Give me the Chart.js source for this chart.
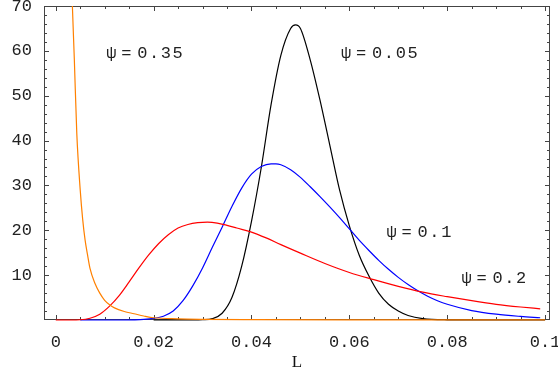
<!DOCTYPE html>
<html>
<head>
<meta charset="utf-8">
<script src="https://cdn.jsdelivr.net/npm/chart.js@4.4.0/dist/chart.umd.min.js"></script>
<style>
html, body { margin: 0; padding: 0; background: #fff; }
#wrap { width: 558px; height: 375px; }
</style>
</head>
<body>
<div id="wrap"><canvas id="plot"></canvas></div>
<script>
// psi = 0.05
var blackL = [0.020, 0.028, 0.030, 0.032, 0.034, 0.036, 0.038, 0.040, 0.042, 0.044, 0.046, 0.048, 0.049, 0.050, 0.052, 0.054, 0.056, 0.058, 0.060, 0.062, 0.064, 0.066, 0.068, 0.070, 0.072, 0.075, 0.080, 0.090, 0.100];
var blackV = [0, 0, 0.05, 0.3, 1.5, 5, 12, 22, 34, 48, 59, 65, 65.8, 65, 58, 49, 39, 29, 21, 14.5, 9.8, 6, 3.5, 2, 1, 0.3, 0.05, 0, 0];
// psi = 0.1
var blueL = [0.005, 0.014, 0.016, 0.018, 0.020, 0.022, 0.024, 0.026, 0.028, 0.030, 0.032, 0.034, 0.036, 0.038, 0.040, 0.042, 0.044, 0.045, 0.046, 0.048, 0.050, 0.052, 0.054, 0.056, 0.058, 0.060, 0.062, 0.064, 0.066, 0.068, 0.070, 0.072, 0.074, 0.076, 0.078, 0.080, 0.085, 0.090, 0.095, 0.099];
var blueV = [0, 0, 0.03, 0.12, 0.35, 0.85, 2.0, 4.3, 7.6, 11.6, 16.2, 20.7, 25.3, 29.4, 32.5, 34.2, 34.8, 34.8, 34.6, 33.5, 31.8, 29.7, 27.5, 25.2, 22.8, 20.3, 17.8, 15.5, 13.3, 11.3, 9.5, 7.9, 6.5, 5.3, 4.3, 3.5, 2.1, 1.3, 0.8, 0.5];
// psi = 0.2
var redL = [0, 0.003, 0.005, 0.007, 0.009, 0.011, 0.013, 0.015, 0.017, 0.019, 0.021, 0.023, 0.025, 0.027, 0.029, 0.031, 0.033, 0.035, 0.037, 0.040, 0.043, 0.046, 0.050, 0.055, 0.060, 0.065, 0.070, 0.075, 0.080, 0.085, 0.090, 0.095, 0.099];
var redV = [0, 0, 0.05, 0.4, 1.3, 3.1, 5.5, 8.5, 11.6, 14.5, 17, 19, 20.5, 21.3, 21.7, 21.8, 21.6, 21.1, 20.5, 19.6, 18.3, 16.8, 14.9, 12.6, 10.6, 9.0, 7.5, 6.2, 5.2, 4.3, 3.5, 2.9, 2.5];
// psi = 0.35
var orangeL = [0.0030, 0.0034, 0.0038, 0.0043, 0.0050, 0.0055, 0.0060, 0.0065, 0.0070, 0.0080, 0.0090, 0.0100, 0.0110, 0.0120, 0.0140, 0.0160, 0.0180, 0.0200, 0.0250, 0.0300, 0.0400, 0.0600, 0.1000];
var orangeV = [85, 70, 58, 41.6, 29, 22.5, 17.8, 14.5, 11.5, 8.2, 6, 4.4, 3.4, 2.7, 1.9, 1.4, 0.9, 0.5, 0.25, 0.15, 0.08, 0.03, 0.01];

var xTicks = [0, 0.02, 0.04, 0.06, 0.08, 0.1];
var yTicks = [10, 20, 30, 40, 50, 60, 70];

function pts(xs, ys) {
    return xs.map(function(x, i) { return { x: x, y: ys[i] }; });
}

function series(label, xs, ys, color) {
    return {
        label: label,
        data: pts(xs, ys),
        borderColor: color,
        borderWidth: 1.2,
        pointRadius: 0,
        fill: false,
        cubicInterpolationMode: 'monotone',
        clip: { left: 0, top: 0, right: 0, bottom: 2 }
    };
}

var notes = [
    { num: '0.35', L: 0.0103, v: 58.3 },
    { num: '0.05', L: 0.0583, v: 58.3 },
    { num: '0.1', L: 0.0676, v: 18.4 },
    { num: '0.2', L: 0.0829, v: 8.3 }
];

var monoFont = '17px "Liberation Mono", monospace';

var frame = {
    id: 'frame',
    beforeDatasetsDraw: function(chart) {
        var ctx = chart.ctx, a = chart.chartArea;
        var xs = chart.scales.x, ys = chart.scales.y;
        ctx.save();
        ctx.strokeStyle = '#444';
        ctx.lineWidth = 1;
        ctx.strokeRect(a.left + 0.5, a.top + 0.5, a.right - a.left - 1, a.bottom - a.top - 1);
        ctx.beginPath();
        for (var i = 0; i <= 20; i++) {
            var px = Math.round(xs.getPixelForValue(i * 0.005)) + 0.5;
            var len = (i % 4 === 0) ? 5 : 3;
            ctx.moveTo(px, a.bottom); ctx.lineTo(px, a.bottom - len);
            ctx.moveTo(px, a.top); ctx.lineTo(px, a.top + len);
        }
        for (var j = 1; j <= 35; j++) {
            var py = Math.round(ys.getPixelForValue(j * 2)) + 0.5;
            var l2 = (j % 5 === 0) ? 5 : 3;
            ctx.moveTo(a.left, py); ctx.lineTo(a.left + l2, py);
            ctx.moveTo(a.right, py); ctx.lineTo(a.right - l2, py);
        }
        ctx.stroke();
        ctx.restore();
    },
    afterDraw: function(chart) {
        var ctx = chart.ctx;
        var xs = chart.scales.x, ys = chart.scales.y;
        ctx.save();
        ctx.fillStyle = '#222';
        ctx.font = monoFont;
        ctx.textAlign = 'left';
        ctx.textBaseline = 'alphabetic';
        notes.forEach(function(n) {
            var x = xs.getPixelForValue(n.L), y = ys.getPixelForValue(n.v);
            ctx.fillText('\u03c8', x, y);
            ctx.fillText('=', x + 15, y);
            for (var k = 0; k < n.num.length; k++) {
                ctx.fillText(n.num[k], x + 31 + k * 11.8, y);
            }
        });
        ctx.restore();
    }
};

window.onload = function() {
    var ctx = document.getElementById('plot').getContext('2d');
    window.myChart = new Chart(ctx, {
        type: 'line',
        data: {
            datasets: [
                series('\u03c8=0.35', orangeL, orangeV, '#ff8000'),
                series('\u03c8=0.2', redL, redV, '#ff0000'),
                series('\u03c8=0.1', blueL, blueV, '#0000ff'),
                series('\u03c8=0.05', blackL, blackV, '#000000')
            ]
        },
        options: {
            responsive: true,
            maintainAspectRatio: false,
            animation: false,
            layout: { padding: { top: 6, right: 8, left: 0, bottom: 0 } },
            plugins: { legend: { display: false }, tooltip: { enabled: false } },
            scales: {
                x: {
                    type: 'linear',
                    min: -0.0024,
                    max: 0.101,
                    grid: { display: false, drawTicks: false },
                    border: { display: false },
                    afterBuildTicks: function(s) {
                        s.ticks = xTicks.map(function(v) { return { value: v }; });
                    },
                    ticks: {
                        padding: 12,
                        maxRotation: 0,
                        autoSkip: false,
                        color: '#222',
                        font: { family: '"Liberation Mono", monospace', size: 17 },
                        callback: function(v) { return String(Math.round(v * 100) / 100); }
                    },
                    title: {
                        display: true,
                        text: 'L',
                        color: '#111',
                        font: { family: '"Liberation Serif", serif', size: 17 },
                        padding: { top: 0, bottom: 2 }
                    },
                    afterFit: function(s) {
                        s.height = 55;
                        s.paddingLeft = 0;
                        s.paddingRight = 0;
                    }
                },
                y: {
                    type: 'linear',
                    min: 0,
                    max: 70,
                    grid: { display: false, drawTicks: false },
                    border: { display: false },
                    afterBuildTicks: function(s) {
                        s.ticks = yTicks.map(function(v) { return { value: v }; });
                    },
                    ticks: {
                        padding: 12,
                        color: '#222',
                        font: { family: '"Liberation Mono", monospace', size: 17 }
                    },
                    afterFit: function(s) {
                        s.width = 44;
                        s.paddingTop = 0;
                        s.paddingBottom = 0;
                    }
                }
            }
        },
        plugins: [frame]
    });
};
</script>
</body>
</html>
